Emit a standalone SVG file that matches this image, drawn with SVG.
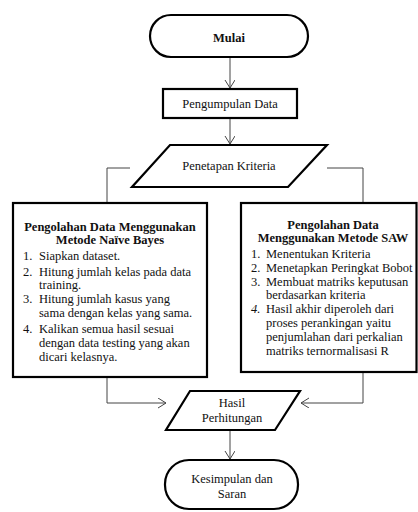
<svg xmlns="http://www.w3.org/2000/svg" width="418" height="512" viewBox="0 0 418 512">
<style>
.shape{fill:#fff;stroke:#000;stroke-width:2.2}
.conn{fill:none;stroke:#444;stroke-width:1}
.c{text-anchor:middle}
.b{font-weight:bold}
</style>
<defs>
<marker id="arr" markerUnits="userSpaceOnUse" markerWidth="12" markerHeight="12" refX="8" refY="5" orient="auto">
<path d="M0,0 L8,5 L0,10" fill="none" stroke="#444" stroke-width="1"/>
</marker>
</defs>
<rect width="418" height="512" fill="#fff"/>
<g id="connectors">
<line class="conn" x1="230" y1="57" x2="230" y2="88" marker-end="url(#arr)"/>
<line class="conn" x1="230" y1="118" x2="230" y2="144" marker-end="url(#arr)"/>
<polyline class="conn" points="130,168 107,168 107,203"/>
<polyline class="conn" points="327,168 363,168 363,203"/>
<polyline class="conn" points="107,377 107,403 166,403" marker-end="url(#arr)"/>
<polyline class="conn" points="363,372 363,403 301,403" marker-end="url(#arr)"/>
<line class="conn" x1="230" y1="430" x2="230" y2="459" marker-end="url(#arr)"/>
</g>
<g font-family="'Liberation Serif', serif" font-size="12.5" fill="#111">
<g id="mulai">
<rect class="shape" x="150" y="15" width="158" height="42" rx="21"/>
<text class="c b" x="229" y="42">Mulai</text>
</g>
<g id="pengumpulan">
<rect class="shape" x="163" y="89" width="134" height="29"/>
<text class="c" x="230" y="108">Pengumpulan Data</text>
</g>
<g id="penetapan">
<polygon class="shape" points="170,145 327,145 288,187 132,187"/>
<text class="c" x="229" y="170">Penetapan Kriteria</text>
</g>
<g id="naive-bayes">
<rect class="shape" x="13" y="203" width="194" height="174"/>
<text class="c b" x="110" y="231">Pengolahan Data Menggunakan</text>
<text class="c b" x="110" y="244">Metode Naïve Bayes</text>
<text x="23" y="260">1.</text><text x="39" y="260">Siapkan dataset.</text>
<text x="23" y="276">2.</text><text x="39" y="276">Hitung jumlah kelas pada data</text>
<text x="39" y="289">training.</text>
<text x="23" y="303">3.</text><text x="39" y="303">Hitung jumlah kasus yang</text>
<text x="39" y="317">sama dengan kelas yang sama.</text>
<text x="23" y="333">4.</text><text x="39" y="333">Kalikan semua hasil sesuai</text>
<text x="39" y="347">dengan data testing yang akan</text>
<text x="39" y="361">dicari kelasnya.</text>
</g>
<g id="saw">
<rect class="shape" x="241" y="203" width="175.5" height="169"/>
<text class="c b" x="333" y="229">Pengolahan Data</text>
<text class="c b" x="333" y="242">Menggunakan Metode SAW</text>
<text x="251" y="258">1.</text><text x="266" y="258">Menentukan Kriteria</text>
<text x="251" y="272">2.</text><text x="266" y="272">Menetapkan Peringkat Bobot</text>
<text x="251" y="286">3.</text><text x="266" y="286">Membuat matriks keputusan</text>
<text x="266" y="299">berdasarkan kriteria</text>
<text x="251" y="313" font-style="italic">4.</text><text x="266" y="313">Hasil akhir diperoleh dari</text>
<text x="266" y="327">proses perankingan yaitu</text>
<text x="266" y="341">penjumlahan dari perkalian</text>
<text x="266" y="355">matriks ternormalisasi R</text>
</g>
<g id="hasil">
<polygon class="shape" points="190,391 300,391 275,430 166,430"/>
<text class="c" x="232" y="407">Hasil</text>
<text class="c" x="232" y="422">Perhitungan</text>
</g>
<g id="kesimpulan">
<rect class="shape" x="165" y="460" width="133" height="49" rx="24"/>
<text class="c" x="232" y="483">Kesimpulan dan</text>
<text class="c" x="232" y="498">Saran</text>
</g>
</g>
</svg>
